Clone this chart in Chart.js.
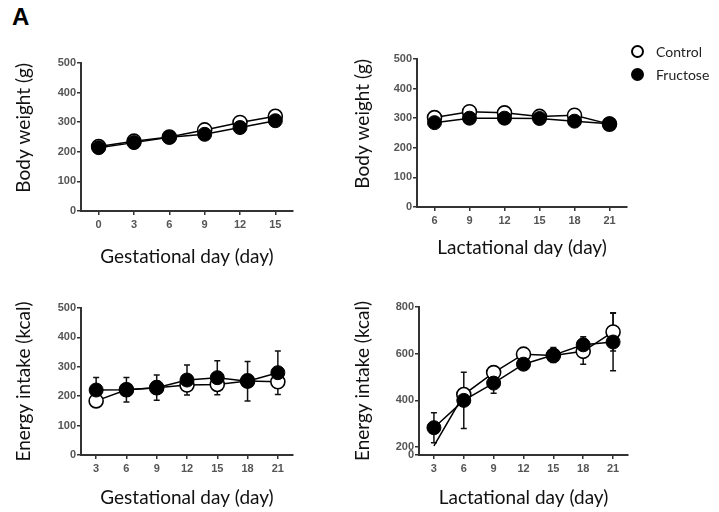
<!DOCTYPE html>
<html>
<head>
<meta charset="utf-8">
<script src="https://cdn.jsdelivr.net/npm/chart.js@4.4.0/dist/chart.umd.min.js"></script>
<style>
  body { margin: 0; background: #fff; width: 719px; height: 512px; position: relative; overflow: hidden; }
  canvas { position: absolute; }
  #panel-label { position: absolute; left: 12px; top: 3px; font: bold 24px "Liberation Sans", Arial, sans-serif; color: #000; }
  #legend { position: absolute; left: 630px; top: 40px; font: 14px Lato, sans-serif; color: #222; }
  #legend .item { position: relative; height: 23px; line-height: 23px; padding-left: 26px; }
  #legend .dot { position: absolute; left: 1px; top: 5px; width: 13px; height: 13px; border-radius: 50%; box-sizing: border-box; border: 2px solid #000; }
</style>
</head>
<body>
<div id="panel-label">A</div>
<canvas id="c1" width="330" height="240" style="left:0;top:40px"></canvas>
<canvas id="c2" width="379" height="250" style="left:340px;top:30px"></canvas>
<canvas id="c3" width="330" height="222" style="left:0;top:290px"></canvas>
<canvas id="c4" width="379" height="222" style="left:340px;top:290px"></canvas>
<div id="legend">
  <div class="item"><span class="dot" style="background:#fff"></span>Control</div>
  <div class="item"><span class="dot" style="background:#000"></span>Fructose</div>
</div>
<script>
// body weight, gestation
const gestBwDays = ["0", "3", "6", "9", "12", "15"];
const gestBwControl = [218, 236, 250, 274, 299, 320];
const gestBwFructose = [214, 231, 249, 259, 282, 305];

// body weight, lactation
const lactBwDays = ["6", "9", "12", "15", "18", "21"];
const lactBwControl = [302, 322, 318, 306, 310, 280];
const lactBwFructose = [285, 300, 300, 299, 290, 281];

// energy intake (both periods use the same days)
const intakeDays = ["3", "6", "9", "12", "15", "18", "21"];
const gestEiControl = [184, 222, 229, 238, 240, 252, 249];
const gestEiFructose = [221, 222, 229, 255, 263, 251, 280];
const gestEiFructoseErr = [43, 42, 43, 51, 58, 67, 74];

const lactEiControl = [205, 425, 519, 598, 592, 610, 693];
const lactEiControlErr = [null, null, null, null, null, 55, 82];
const lactEiFructose = [283, 400, 474, 555, 594, 638, 650];
const lactEiFructoseErr = [64, 120, 43, null, 32, 35, 123];

const lactEiTicks = [166, 200, 400, 600, 800]; // 166 = broken-axis origin, labelled 0

const tickFont = { family: "'Liberation Sans', Arial, sans-serif", size: 11, weight: "bold" };
const titleFont = { family: "Lato, sans-serif", size: 19 };

// draws mean +/- SD whiskers under the markers
const errorBars = {
  id: "errorBars",
  beforeDatasetsDraw(chart) {
    const ctx = chart.ctx;
    const y = chart.scales.y;
    chart.data.datasets.forEach((ds, i) => {
      if (!ds.errors) return;
      const meta = chart.getDatasetMeta(i);
      ctx.save();
      ctx.strokeStyle = "#111";
      ctx.lineWidth = 1.5;
      meta.data.forEach((pt, j) => {
        const e = ds.errors[j];
        if (!e) return;
        const top = y.getPixelForValue(ds.data[j] + e);
        const bot = y.getPixelForValue(ds.data[j] - e);
        ctx.beginPath();
        ctx.moveTo(pt.x, top);
        ctx.lineTo(pt.x, bot);
        ctx.moveTo(pt.x - 3, top);
        ctx.lineTo(pt.x + 3, top);
        ctx.moveTo(pt.x - 3, bot);
        ctx.lineTo(pt.x + 3, bot);
        ctx.stroke();
      });
      ctx.restore();
    });
  },
};

const series = (label, data, filled, errors, radius) => ({
  label: label,
  data: data,
  errors: errors,
  borderColor: "#000",
  borderWidth: 1.5,
  pointRadius: radius || 7,
  pointBackgroundColor: filled ? "#000" : "#fff",
  pointBorderColor: "#000",
  pointBorderWidth: filled ? 1 : 1.6,
  tension: 0,
  order: filled ? 0 : 1,
});

const panel = (id, p) => {
  new Chart(document.getElementById(id), {
    type: "line",
    data: { labels: p.labels, datasets: p.datasets },
    plugins: [errorBars],
    options: {
      responsive: false,
      animation: false,
      layout: { padding: p.padding },
      plugins: { legend: { display: false }, tooltip: { enabled: false } },
      scales: {
        x: {
          type: "category",
          offset: true,
          border: { display: true, color: "#333", width: 2 },
          grid: { drawOnChartArea: false, drawTicks: true, tickLength: 4, tickColor: "#333", lineWidth: 1.5 },
          ticks: { color: "#555", font: tickFont, padding: 3, maxRotation: 0, autoSkip: false },
          title: { display: true, text: p.xTitle, color: "#111", font: titleFont, padding: { top: 0, bottom: p.xTitlePad } },
          afterFit: (s) => { s.height = p.xHeight; },
        },
        y: {
          min: p.yMin,
          max: p.yMax,
          border: { display: true, color: "#333", width: 2 },
          grid: { drawOnChartArea: false, drawTicks: true, tickLength: 4, tickColor: "#333", lineWidth: 1.5 },
          ticks: {
            color: "#555",
            font: tickFont,
            padding: 1,
            stepSize: p.yStep,
            callback: p.yLabel || ((v) => v),
          },
          afterBuildTicks: p.yTicks ? (s) => { s.ticks = p.yTicks.map((v) => ({ value: v })); } : undefined,
          title: { display: true, text: p.yTitle, color: "#111", font: titleFont, align: p.yAlign, padding: { top: p.yTitlePad, bottom: 0 } },
          afterFit: (s) => { s.width = p.yWidth; },
        },
      },
    },
  });
};

panel("c1", {
  labels: gestBwDays,
  datasets: [series("Control", gestBwControl, false), series("Fructose", gestBwFructose, true)],
  padding: { top: 23, right: 37, left: 0, bottom: 0 },
  xTitle: "Gestational day (day)", xHeight: 69, xTitlePad: 12,
  yTitle: "Body weight (g)", yWidth: 81, yTitlePad: 12, yAlign: "end",
  yMin: 0, yMax: 500, yStep: 100,
});

panel("c2", {
  labels: lactBwDays,
  datasets: [series("Control", lactBwControl, false), series("Fructose", lactBwFructose, true)],
  padding: { top: 29, right: 92, left: 0, bottom: 0 },
  xTitle: "Lactational day (day)", xHeight: 73, xTitlePad: 21,
  yTitle: "Body weight (g)", yWidth: 77, yTitlePad: 11, yAlign: "end",
  yMin: 0, yMax: 500, yStep: 100,
});

panel("c3", {
  labels: intakeDays,
  datasets: [series("Control", gestEiControl, false), series("Fructose", gestEiFructose, true, gestEiFructoseErr)],
  padding: { top: 18, right: 37, left: 0, bottom: 0 },
  xTitle: "Gestational day (day)", xHeight: 57, xTitlePad: 3,
  yTitle: "Energy intake (kcal)", yWidth: 81, yTitlePad: 12, yAlign: "center",
  yMin: 0, yMax: 500, yStep: 100,
});

panel("c4", {
  labels: intakeDays,
  datasets: [
    series("Control", lactEiControl, false, lactEiControlErr, [0, 7, 7, 7, 7, 7, 7]),
    series("Fructose", lactEiFructose, true, lactEiFructoseErr),
  ],
  padding: { top: 17, right: 91, left: 0, bottom: 0 },
  xTitle: "Lactational day (day)", xHeight: 57, xTitlePad: 3,
  yTitle: "Energy intake (kcal)", yWidth: 79, yTitlePad: 11, yAlign: "center",
  yMin: lactEiTicks[0], yMax: 800, yTicks: lactEiTicks,
  yLabel: (v) => (v === lactEiTicks[0] ? "0" : v),
});
</script>
</body>
</html>
